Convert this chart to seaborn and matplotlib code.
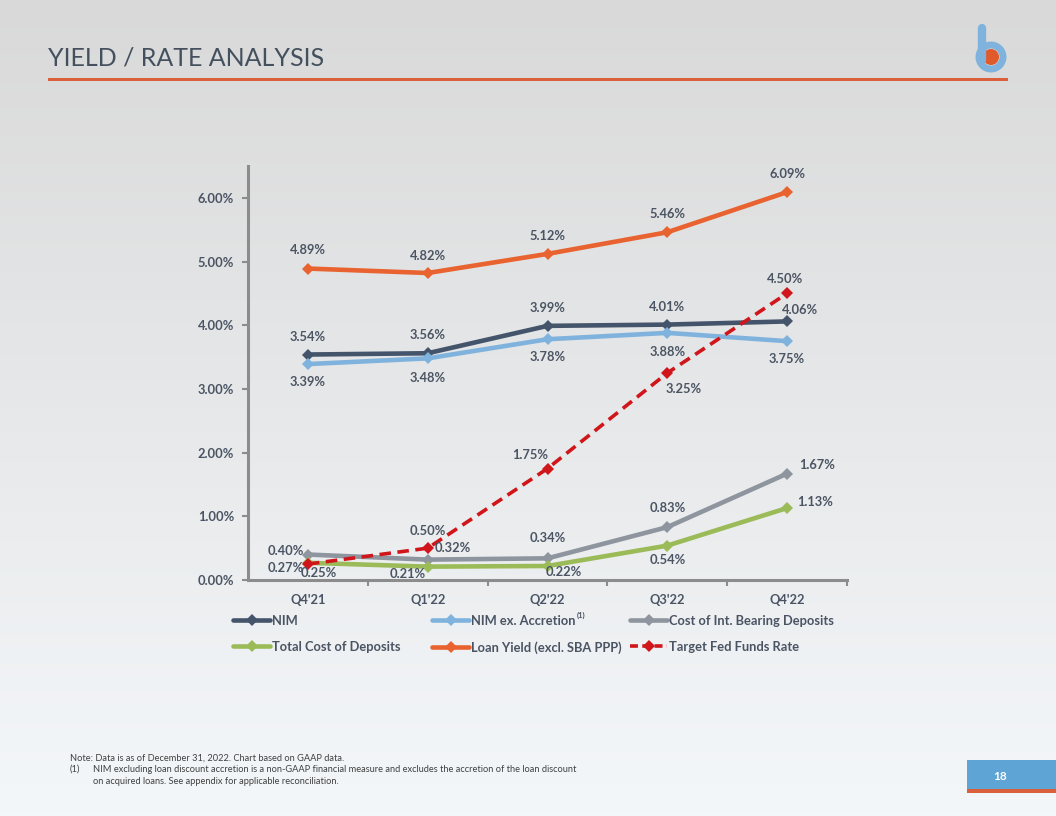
import numpy as np
import pandas as pd
import matplotlib
matplotlib.use("Agg")
import matplotlib.pyplot as plt
import seaborn as sns
from matplotlib.lines import Line2D
from matplotlib.patches import Rectangle, Circle
from matplotlib.ticker import FuncFormatter, FixedLocator

quarters = ["Q4'21", "Q1'22", "Q2'22", "Q3'22", "Q4'22"]
nim = [3.54, 3.56, 3.99, 4.01, 4.06]
nim_ex = [3.39, 3.48, 3.78, 3.88, 3.75]
cost_ibd = [0.40, 0.32, 0.34, 0.83, 1.67]
total_cost = [0.27, 0.21, 0.22, 0.54, 1.13]
loan_yield = [4.89, 4.82, 5.12, 5.46, 6.09]
fed_rate = [0.25, 0.50, 1.75, 3.25, 4.50]

series_names = ["NIM", "NIM ex. Accretion", "Cost of Int. Bearing Deposits",
                "Total Cost of Deposits", "Loan Yield (excl. SBA PPP)", "Target Fed Funds Rate"]
series_vals = [nim, nim_ex, cost_ibd, total_cost, loan_yield, fed_rate]
colors = ["#44546a", "#7fb3dd", "#8e959e", "#9bbb59", "#e8632f", "#d0161b"]

# label offsets in pixels (dx, dy up)
label_off = {
    "NIM": [(0, 18), (0, 18), (0, 18), (0, 18), (13, 11)],
    "NIM ex. Accretion": [(0, -18), (0, -20), (0, -18), (0, -19), (0, -18)],
    "Cost of Int. Bearing Deposits": [(-22, 4), (25, 12), (0, 20), (0, 19), (30, 9)],
    "Total Cost of Deposits": [(-22, -5), (-20, -7), (16, -6), (0, -14), (28, 6)],
    "Loan Yield (excl. SBA PPP)": [(0, 19), (0, 17), (0, 18), (0, 18), (0, 18)],
    "Target Fed Funds Rate": [(11, -9), (0, 17), (-17, 14), (16, -16), (-2, 14)],
}

rows = []
for name, vals in zip(series_names, series_vals):
    for q, v in zip(quarters, vals):
        rows.append({"quarter": q, "series": name, "value": v})
df = pd.DataFrame(rows)

sns.set_theme(style="white")
plt.rcParams["font.family"] = ["Lato", "DejaVu Sans"]
txt_col = "#4a5463"
fsz = 9.3

fig = plt.figure(figsize=(10.56, 8.16), dpi=100)

# background gradient + page decorations
bg = fig.add_axes([0, 0, 1, 1], zorder=-10)
grad = np.linspace(0, 1, 256).reshape(-1, 1)
top = np.array([0.851, 0.851, 0.851])
bot = np.array([0.957, 0.969, 0.980])
img = top + (bot - top) * grad[..., None]
bg.imshow(img, extent=[0, 1056, 816, 0], aspect="auto")
bg.set_xlim(0, 1056)
bg.set_ylim(816, 0)
bg.axis("off")
bg.text(48, 66, "YIELD / RATE ANALYSIS", fontsize=18, color="#44505e",
        fontweight="normal", ha="left", va="baseline")
bg.add_patch(Rectangle((48, 77.5), 960, 3, color="#d9603a", lw=0))
# logo
bg.plot([982, 982], [28, 60], color="#7fb3dd", lw=6, solid_capstyle="round")
bg.add_patch(Circle((991, 57), 12, fill=False, ec="#7fb3dd", lw=5))
bg.add_patch(Circle((991, 57), 8, color="#e05a2b", lw=0))
# page number box
bg.add_patch(Rectangle((967, 760), 89, 30, color="#5ea5d6", lw=0))
bg.add_patch(Rectangle((967, 789), 89, 4, color="#d9603a", lw=0))
bg.text(1000, 776, "18", color="white", fontsize=8.5, fontweight="bold",
        ha="center", va="center")
# footnotes
fn = dict(fontsize=6.7, color="#404040", ha="left", va="center")
bg.text(70, 758, "Note: Data is as of December 31, 2022. Chart based on GAAP data.", **fn)
bg.text(70, 769, "(1)", **fn)
bg.text(93, 769, "NIM excluding loan discount accretion is a non-GAAP financial measure and "
        "excludes the accretion of the loan discount", **fn)
bg.text(93, 781, "on acquired loans. See appendix for applicable reconciliation.", **fn)

# main chart
ax = fig.add_axes([248 / 1056, 1 - 580 / 816, (847 - 248) / 1056, (580 - 166) / 816])
ax.patch.set_alpha(0)
sns.lineplot(data=df, x="quarter", y="value", hue="series", style="series",
             hue_order=series_names, style_order=series_names,
             palette=dict(zip(series_names, colors)),
             dashes={n: ((3.2, 1.8) if n == "Target Fed Funds Rate" else "") for n in series_names},
             markers={n: "D" for n in series_names}, markersize=6, markeredgewidth=0,
             linewidth=3.3, legend=False, sort=False, ax=ax)
for line in ax.lines:
    if line.get_linestyle() not in ("-", "solid"):
        line.set_linewidth(2.6)

for name, vals in zip(series_names, series_vals):
    for i, v in enumerate(vals):
        dx, dy = label_off[name][i]
        ax.annotate(f"{v:.2f}%", (i, v), xytext=(dx * 0.72, dy * 0.72),
                    textcoords="offset points", ha="center", va="center",
                    fontsize=fsz, fontweight="bold", color=txt_col)

ax.set_xlim(-0.5, 4.5)
ax.set_ylim(0, 6.5)
ax.set_yticks([0, 1, 2, 3, 4, 5, 6])
ax.yaxis.set_major_formatter(FuncFormatter(lambda v, p: f"{v:.2f}%"))
ax.set_xticks(range(5))
ax.set_xticklabels(quarters)
ax.xaxis.set_minor_locator(FixedLocator([0.5, 1.5, 2.5, 3.5, 4.5]))
ax.set_xlabel("")
ax.set_ylabel("")
for s in ["top", "right"]:
    ax.spines[s].set_visible(False)
for s in ["left", "bottom"]:
    ax.spines[s].set_color("#8c8c8c")
    ax.spines[s].set_linewidth(2.2)
ax.tick_params(axis="y", which="major", length=4, width=1.5, color="#8c8c8c",
               labelsize=fsz, labelcolor=txt_col, pad=6, left=True)
ax.tick_params(axis="x", which="major", length=0, labelsize=fsz,
               labelcolor=txt_col, pad=10)
ax.tick_params(axis="x", which="minor", length=4, width=1.5, color="#8c8c8c",
               bottom=True)
for lab in ax.get_xticklabels() + ax.get_yticklabels():
    lab.set_fontweight("bold")

# legend, three columns placed individually
cols = [(233, [0, 3]), (432, [1, 4]), (630, [2, 5])]
legs = []
for x0, idxs in cols:
    handles = []
    for k in idxs:
        ls = (0, (2.2, 1.2)) if series_names[k] == "Target Fed Funds Rate" else "-"
        handles.append(Line2D([], [], color=colors[k], lw=3.3 if ls == "-" else 2.6,
                              ls=ls, marker="D", markersize=6, markeredgewidth=0))
    leg = fig.legend(handles, [series_names[k] for k in idxs], loc="upper left",
                     bbox_to_anchor=(x0 / 1056, 1 - 615 / 816), frameon=False,
                     handlelength=2.9, handletextpad=0.1, labelspacing=1.08,
                     borderpad=0, borderaxespad=0, numpoints=1,
                     prop={"size": fsz, "weight": "bold"})
    for t in leg.get_texts():
        t.set_color(txt_col)
    legs.append(leg)

# footnote marker after "NIM ex. Accretion"
fig.canvas.draw()
bb = legs[1].get_texts()[0].get_window_extent()
fig.text(bb.x1 / 1056 + 0.001, bb.y1 / 816 - 0.001, "(1)", fontsize=5.5,
         color=txt_col, fontweight="bold", ha="left", va="center")

fig.savefig("out.png", dpi=100)
